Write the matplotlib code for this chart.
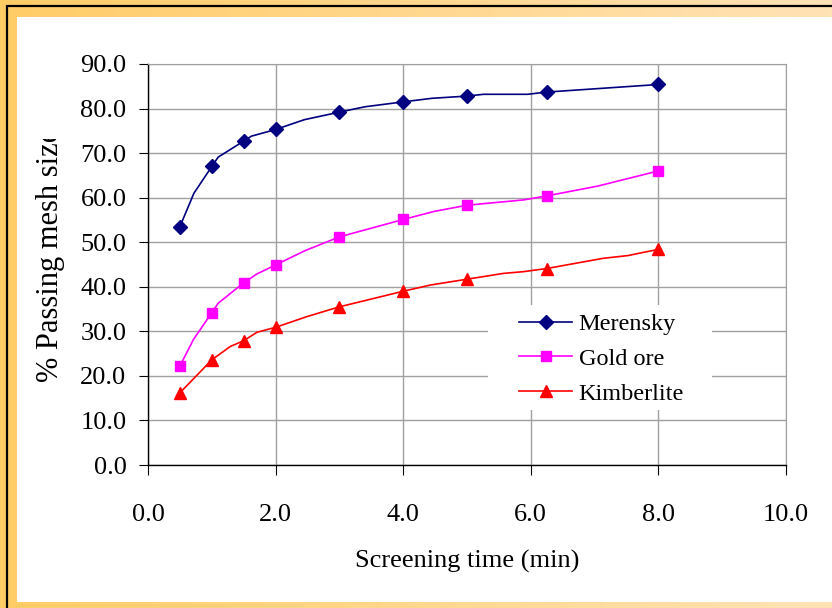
import numpy as np
import matplotlib
matplotlib.use("Agg")
import matplotlib.pyplot as plt
from matplotlib.patches import Rectangle
from matplotlib.transforms import Bbox

plt.rcParams['font.family'] = ['Liberation Serif', 'DejaVu Serif']

# marker points
time_pts = [0.5, 1.0, 1.5, 2.0, 3.0, 4.0, 5.0, 6.25, 8.0]
merensky = [53.5, 67.0, 72.7, 75.3, 79.2, 81.5, 82.8, 83.7, 85.4]
gold_ore = [22.2, 34.2, 40.9, 44.9, 51.2, 55.1, 58.3, 60.4, 66.0]
kimberlite = [16.2, 23.6, 27.9, 30.9, 35.5, 39.0, 41.7, 44.1, 48.4]

# line traces (include intermediate points)
merensky_line_x = [0.5, 0.72, 1.0, 1.1, 1.5, 1.62, 2.0, 2.45, 3.0, 3.4, 4.0, 4.45, 5.0, 5.26, 5.95, 6.25, 8.0]
merensky_line_y = [53.5, 61.0, 67.0, 69.1, 72.7, 73.8, 75.3, 77.5, 79.2, 80.4, 81.5, 82.3, 82.8, 83.2, 83.2, 83.7, 85.4]
gold_line_x = [0.5, 0.71, 1.0, 1.1, 1.5, 1.71, 2.0, 2.46, 3.0, 4.0, 4.48, 5.0, 5.89, 6.25, 7.05, 8.0]
gold_line_y = [22.2, 28.1, 34.2, 36.3, 40.9, 42.9, 44.9, 48.1, 51.2, 55.1, 56.9, 58.3, 59.5, 60.4, 62.6, 66.0]
kimb_line_x = [0.5, 1.0, 1.29, 1.5, 1.71, 2.0, 2.49, 3.0, 4.0, 4.43, 5.0, 5.57, 5.89, 6.25, 7.14, 7.52, 8.0]
kimb_line_y = [16.2, 23.6, 26.6, 27.9, 29.8, 30.9, 33.3, 35.5, 39.0, 40.4, 41.7, 43.0, 43.4, 44.1, 46.4, 47.0, 48.4]

x_ticks = [0, 2, 4, 6, 8, 10]
y_ticks = [0, 10, 20, 30, 40, 50, 60, 70, 80, 90]

W, H = 832, 608
fig = plt.figure(figsize=(W / 100, H / 100), dpi=100)

# background frame: orange gradient, black rule, white panel
bg = fig.add_axes([0, 0, 1, 1], zorder=-10)
bg.set_xlim(0, W)
bg.set_ylim(H, 0)
bg.axis('off')
c0 = np.array([255, 204, 102]) / 255
c1 = np.array([255, 226, 181]) / 255
t = np.linspace(0, 1, 256)
grad = (c0[None, :] * (1 - t[:, None]) + c1[None, :] * t[:, None])[None, :, :]
bg.imshow(grad, extent=[0, W, H, 0], aspect='auto')
bg.plot([7, 7, W], [H, 6, 6], color='black', lw=1.6, solid_joinstyle='miter')
bg.add_patch(Rectangle((17, 17), W - 17, 585, facecolor='white', edgecolor='none'))

ax = fig.add_axes([148 / W, 1 - 465 / H, (786 - 148) / W, (465 - 64) / H])

ax.plot(merensky_line_x, merensky_line_y, color='#000080', lw=1.2, zorder=4)
ax.plot(gold_line_x, gold_line_y, color='#FF00FF', lw=1.2, zorder=4)
ax.plot(kimb_line_x, kimb_line_y, color='#FF0000', lw=1.2, zorder=4)
ax.plot(time_pts, merensky, ls='none', marker='D', ms=7, color='#000080', zorder=5)
ax.plot(time_pts, gold_ore, ls='none', marker='s', ms=7.5, color='#FF00FF', zorder=5)
ax.plot(time_pts, kimberlite, ls='none', marker='^', ms=8.5, color='#FF0000', zorder=5)

# legend proxies
h1, = ax.plot([], [], color='#000080', lw=1.2, marker='D', ms=7)
h2, = ax.plot([], [], color='#FF00FF', lw=1.2, marker='s', ms=7.5)
h3, = ax.plot([], [], color='#FF0000', lw=1.2, marker='^', ms=8.5)

ax.set_xlim(0, 10)
ax.set_ylim(0, 90)
ax.set_xticks(x_ticks)
ax.set_yticks(y_ticks)
ax.set_xticklabels([f"{v:.1f}" for v in x_ticks])
ax.set_yticklabels([f"{v:.1f}" for v in y_ticks])
ax.grid(True, color='#A0A0A0', lw=1.0)
ax.set_axisbelow(True)
for s in ['top', 'right']:
    ax.spines[s].set_color('#A0A0A0')
for s in ['left', 'bottom']:
    ax.spines[s].set_color('black')
    ax.spines[s].set_linewidth(1.0)
ax.tick_params(axis='y', direction='out', length=6.5, width=0.8, pad=9, labelsize=19)
ax.tick_params(axis='x', direction='out', length=7, width=0.8, pad=21, labelsize=19)

# white box behind the legend
ax.add_patch(Rectangle(((488 - 148) / 638, (465 - 410) / 401), (712 - 488) / 638, 105 / 401,
                       transform=ax.transAxes, facecolor='white', edgecolor='none', zorder=2))
ax.legend([h1, h2, h3], ['Merensky', 'Gold ore', 'Kimberlite'], loc='upper left',
          bbox_to_anchor=((519 - 148) / 638, (465 - 313) / 401), frameon=False,
          borderpad=0, borderaxespad=0, handlelength=2.2, handletextpad=0.25,
          labelspacing=0.53, numpoints=1, fontsize=17.5)

ax.set_xlabel('Screening time (min)', fontsize=19, labelpad=17)
ylab = ax.set_ylabel('% Passing mesh size', fontsize=22)
ax.yaxis.set_label_coords((65 - 148) / 638, (465 - 255) / 401)
# the original label is cut off at the top
ylab.set_clip_box(Bbox([[0, 0], [W, H - 139]]))
ylab.set_clip_on(True)

fig.savefig('out.png', dpi=100)
